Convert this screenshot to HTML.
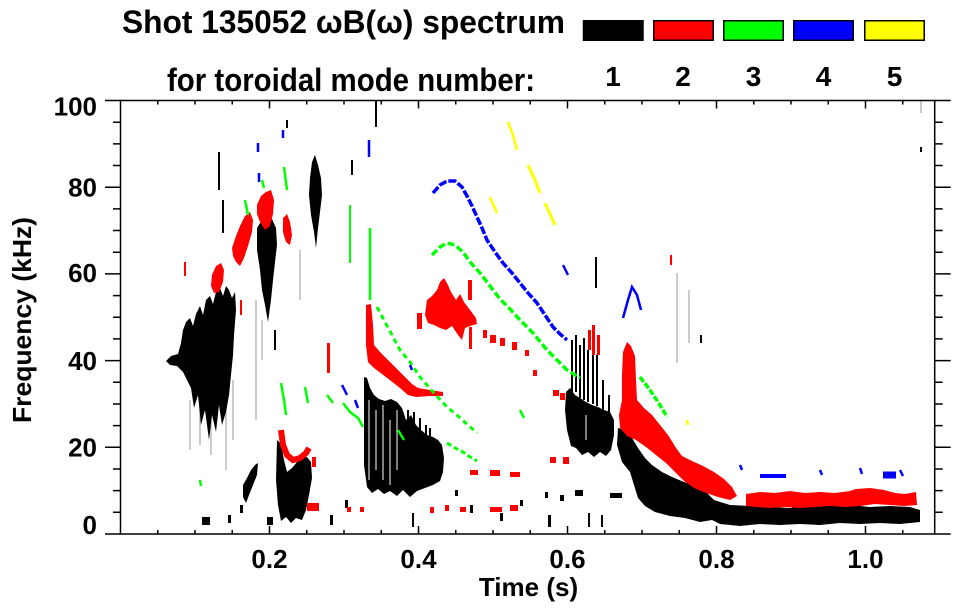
<!DOCTYPE html>
<html><head><meta charset="utf-8"><style>
html,body{margin:0;padding:0;background:#fff;}
svg{display:block;}
text{font-family:"Liberation Sans",Arial,sans-serif;font-weight:bold;fill:#000;}
</style></head><body>
<svg width="963" height="615" viewBox="0 0 963 615" xmlns="http://www.w3.org/2000/svg">
<rect width="963" height="615" fill="#fff"/>

<!-- Title -->
<text x="122" y="33" font-size="32" textLength="443" lengthAdjust="spacingAndGlyphs">Shot 135052 ωB(ω) spectrum</text>
<text x="167" y="91" font-size="32" textLength="368" lengthAdjust="spacingAndGlyphs">for toroidal mode number:</text>

<!-- Legend -->
<g stroke="#000" stroke-width="1.5">
<rect x="583.5" y="20.75" width="59.5" height="19.5" fill="#000"/>
<rect x="653.75" y="20.75" width="59.5" height="19.5" fill="#ff0000"/>
<rect x="723.75" y="20.75" width="59.5" height="19.5" fill="#00ff00"/>
<rect x="793.75" y="20.75" width="59.5" height="19.5" fill="#0000ff"/>
<rect x="864.75" y="20.75" width="59.5" height="19.5" fill="#ffff00"/>
</g>
<g font-size="28" text-anchor="middle">
<text x="613" y="86">1</text>
<text x="683" y="86">2</text>
<text x="753.5" y="86">3</text>
<text x="823.5" y="86">4</text>
<text x="894.5" y="86">5</text>
</g>

<!-- ===== DATA ===== -->
<g stroke="#aaa" stroke-width="1.2" fill="none">
<path d="M190,400V450M200,405V445M211,400V455M226,395V470M233,380V440M256,300V420M262,320V360M677,273V363M689,290V343M921,100V113M320,183V198M300,250V300"/>
</g>

<!-- BLACK -->
<g fill="#000">
<path d="M166,361 L171,356 L178,354 L181,343 L183,330 L186,322 L190,318 L193,326 L196,314 L200,306 L203,315 L206,300 L210,296 L213,304 L216,292 L220,288 L223,296 L226,286 L229,290 L232,298 L235,292 L236,310 L234,335 L233,355 L231,375 L229,395 L226,412 L222,425 L219,405 L216,432 L212,415 L209,440 L205,410 L201,425 L198,395 L194,408 L191,388 L187,380 L183,372 L177,366 L170,365 Z"/>
<path d="M257,228 L262,220 L267,222 L272,219 L276,228 L277,245 L275,262 L273,280 L271,300 L268,322 L265,305 L262,290 L260,270 L257,250 Z"/>
<path d="M312,162 L315,155 L318,165 L321,178 L322,195 L320,212 L318,228 L316,248 L314,232 L311,215 L309,195 L310,178 Z"/>
<path d="M277,440 L281,444 L284,460 L287,472 L292,468 L297,462 L302,458 L307,457 L311,462 L312,478 L309,495 L306,510 L302,520 L296,518 L291,523 L286,517 L281,521 L278,505 L276,480 Z"/>
<path d="M255,465 L258,463 L257,475 L253,485 L249,495 L246,503 L243,497 L243,485 L247,478 L251,470 Z"/>
<path d="M364,377 L367,378 L370,388 L374,395 L379,399 L385,401 L391,399 L397,402 L402,408 L406,420 L411,415 L416,425 L421,430 L427,435 L433,437 L438,440 L442,445 L444,458 L443,472 L440,481 L433,485 L425,488 L417,491 L410,497 L403,490 L397,496 L390,491 L384,494 L378,489 L372,493 L367,487 L364,465 Z"/>
<path d="M408,410V430M414,412V432M420,418V436M426,425V440M430,428V440" stroke="#000" stroke-width="2"/>
<path d="M566,392 L570,388 L575,395 L580,398 L586,402 L592,405 L598,407 L604,410 L610,412 L614,420 L614,435 L611,450 L606,456 L600,452 L594,457 L588,452 L582,455 L576,448 L571,446 L567,430 L565,410 Z"/>
<path d="M572,340V395M576,335V392M580,345V398M584,338V400M588,350V402M593,342V404M597,355V406M603,380V410M609,395V413" stroke="#000" stroke-width="2"/>
<path d="M618,428 L625,430 L632,438 L638,448 L645,458 L652,465 L662,472 L672,477 L684,482 L696,486 L706,492 L714,500 L730,505 L750,506 L770,507 L790,508 L810,505 L830,506 L850,505 L870,507 L890,506 L910,507 L920,510 L920,522 L900,524 L880,523 L860,524 L840,523 L820,525 L800,524 L780,525 L760,524 L740,526 L720,524 L712,520 L700,522 L685,518 L670,516 L655,512 L645,506 L638,498 L630,472 L622,462 L617,445 Z"/>
<path d="M376,100V127M219,152V190M223,200V233M596,257V288M413,513V527M589,513V527M602,515V527M921,147V152M352,160V175M287,120V128M275,330V350" stroke="#000" stroke-width="2"/>
<rect x="202" y="517" width="8" height="8"/><rect x="267" y="517" width="6" height="8"/>
<rect x="330" y="515" width="3" height="10"/><rect x="345" y="500" width="3" height="8"/>
<rect x="455" y="490" width="3" height="6"/><rect x="470" y="505" width="3" height="8"/>
<rect x="500" y="513" width="3" height="8"/><rect x="520" y="500" width="3" height="6"/>
<rect x="545" y="492" width="3" height="6"/><rect x="560" y="495" width="4" height="6"/>
<rect x="575" y="490" width="8" height="6"/><rect x="610" y="493" width="12" height="5"/>
<rect x="228" y="515" width="3" height="8"/><rect x="240" y="505" width="3" height="8"/>
<rect x="548" y="515" width="3" height="12"/><rect x="700" y="335" width="2" height="8"/>
</g>
<path d="M369,400V480M376,410V470M383,405V480M390,420V485M397,410V470M586,415V440" stroke="#fff" stroke-width="1"/>

<!-- RED -->
<g fill="#ff0000">
<path d="M212,275 L216,266 L221,263 L224,270 L223,282 L219,292 L214,293 L211,286 Z"/>
<path d="M232,248 L236,236 L240,226 L245,216 L250,212 L253,220 L252,232 L248,246 L244,258 L240,266 L236,262 L233,256 Z"/>
<path d="M257,205 L261,196 L266,192 L271,190 L274,200 L273,214 L270,226 L265,230 L260,222 L257,214 Z"/>
<path d="M283,218 L287,214 L290,222 L292,235 L290,245 L286,242 L283,232 Z"/>
<path d="M366,305 L371,304 L373,325 L374,345 L380,352 L388,360 L396,368 L404,376 L412,384 L418,388 L430,390 L443,392 L443,396 L430,396 L416,397 L408,395 L400,388 L391,381 L382,374 L374,368 L368,362 L366,345 Z"/>
<path d="M427,300 L432,296 L437,290 L440,282 L444,278 L448,285 L451,292 L456,300 L460,294 L464,302 L470,310 L476,318 L477,324 L470,326 L465,328 L462,340 L458,335 L452,326 L446,330 L440,328 L434,325 L428,323 L425,315 Z"/>
<path d="M623,352 L627,342 L631,346 L635,356 L636,380 L637,400 L644,408 L652,415 L660,425 L668,435 L676,448 L682,456 L692,461 L703,466 L714,472 L724,479 L732,487 L737,496 L730,500 L718,497 L706,493 L694,488 L684,481 L675,472 L666,463 L656,455 L646,447 L636,440 L627,436 L620,428 L619,415 L622,400 L622,375 Z"/>
<path d="M746,494 L760,492 L775,493 L790,491 L805,493 L820,492 L835,493 L850,491 L856,489 L870,488 L884,490 L895,493 L905,494 L916,492 L917,505 L905,506 L890,505 L875,504 L860,506 L845,507 L830,506 L815,507 L800,508 L785,507 L770,508 L755,507 L746,506 Z"/>
<rect x="483" y="330" width="4" height="8"/><rect x="490" y="335" width="6" height="8"/>
<rect x="500" y="338" width="5" height="8"/><rect x="512" y="342" width="5" height="8"/>
<rect x="525" y="350" width="4" height="6"/><rect x="533" y="370" width="4" height="6"/>
<rect x="553" y="390" width="6" height="6"/><rect x="560" y="393" width="5" height="7"/>
<rect x="588" y="330" width="3" height="20"/><rect x="592" y="325" width="3" height="30"/>
<rect x="597" y="335" width="3" height="20"/><rect x="468" y="280" width="4" height="20"/>
<rect x="469" y="327" width="3" height="22"/><rect x="417" y="313" width="5" height="16"/>
<rect x="327" y="343" width="3" height="30"/><rect x="240" y="300" width="2" height="15"/>
<rect x="307" y="503" width="12" height="8"/><rect x="347" y="507" width="4" height="5"/>
<rect x="360" y="507" width="4" height="5"/><rect x="430" y="507" width="4" height="6"/>
<rect x="445" y="505" width="4" height="6"/><rect x="460" y="507" width="6" height="5"/>
<rect x="490" y="507" width="12" height="5"/><rect x="510" y="505" width="8" height="6"/>
<rect x="470" y="470" width="8" height="5"/><rect x="490" y="470" width="10" height="6"/>
<rect x="510" y="472" width="10" height="5"/><rect x="550" y="457" width="6" height="6"/>
<rect x="563" y="457" width="6" height="7"/><rect x="670" y="255" width="2" height="10"/>
<rect x="312" y="457" width="4" height="10"/><rect x="184" y="262" width="2" height="14"/>
</g>
<path d="M281,430 L283,445 L287,455 L293,460 L300,458 L306,453 L309,448" stroke="#ff0000" stroke-width="6" fill="none"/>

<!-- GREEN -->
<g stroke="#00ff00" fill="none">
<path d="M432,255 L440,247 L447,243 L455,245 L463,252 L470,262 L480,273 L490,286 L500,299 L510,309 L520,320 L533,333 L547,350 L557,360 L567,370 L580,378" stroke-width="3.5" stroke-dasharray="7 3"/>
<path d="M640,377 L650,390 L660,405 L667,417" stroke-width="3.5" stroke-dasharray="6 2"/>
<path d="M370,228 L370,300" stroke-width="2.5"/>
<path d="M377,307 L385,322 L392,335 L400,350 L410,362 L420,377 L433,392 L447,407 L458,416 L468,425 L477,433" stroke-width="3" stroke-dasharray="5 4"/>
<path d="M447,443 L455,448 L463,452 L470,457 L477,461" stroke-width="3" stroke-dasharray="5 3"/>
<path d="M350,205 L350,263" stroke-width="2"/>
<path d="M281,383 L284,400 L286,415 M305,387 L308,403 M245,200 L248,215 M284,167 L287,190 M343,403 L350,412 L358,418 L363,427 M327,395 L333,403 M398,430 L404,440 M520,410 L524,418 M200,480 L201,486 M262,180 L264,188" stroke-width="2.5"/>
</g>

<!-- BLUE -->
<g stroke="#0000ff" fill="none">
<path d="M433,193 L440,185 L447,181 L455,181 L462,187 L467,196 L472,206 L477,217 L482,228 L487,240 L495,252 L503,263 L512,273 L520,283 L528,293 L537,303 L545,315 L553,327 L560,334 L567,340" stroke-width="3.5" stroke-dasharray="8 2"/>
<path d="M623,318 L628,300 L632,287 L637,295 L641,310" stroke-width="2.5"/>
<path d="M563,265 L568,275" stroke-width="2.5"/>
<path d="M760,476 H786" stroke-width="4"/>
<path d="M883,475 H896" stroke-width="7"/>
<path d="M258,143 V152 M259,173 V182 M283,130 V138 M369,140 V157 M342,385 L347,395 M355,400 L358,408 M410,365 L412,370 M740,465 L742,470 M820,470 L822,475 M860,468 L862,474 M900,470 L903,476" stroke-width="2.5"/>
</g>

<!-- YELLOW -->
<g stroke="#ffff00" fill="none">
<path d="M508,122 L513,135 L517,150" stroke-width="2.5"/>
<path d="M528,165 L535,180 L540,193 M545,203 L550,214 L555,225" stroke-width="3"/>
<path d="M490,197 L497,213 M687,420 L688,425" stroke-width="2.5"/>
</g>

<!-- ===== AXES ===== -->
<rect x="120.5" y="100.5" width="814.2" height="433.5" fill="none" stroke="#000" stroke-width="1.5"/>
<g stroke="#000" stroke-width="1.5" fill="none">
<path d="M157.75,534v-4M195,534v-4M232.25,534v-4M269.5,534v-8M306.75,534v-4M344,534v-4M381.25,534v-4M418.5,534v-8M455.75,534v-4M493,534v-4M530.25,534v-4M567.5,534v-8M604.75,534v-4M642,534v-4M679.25,534v-4M716.5,534v-8M753.75,534v-4M791,534v-4M828.25,534v-4M865.5,534v-8M902.75,534v-4"/>
<path d="M157.75,100.5v4M195,100.5v4M232.25,100.5v4M269.5,100.5v8M306.75,100.5v4M344,100.5v4M381.25,100.5v4M418.5,100.5v8M455.75,100.5v4M493,100.5v4M530.25,100.5v4M567.5,100.5v8M604.75,100.5v4M642,100.5v4M679.25,100.5v4M716.5,100.5v8M753.75,100.5v4M791,100.5v4M828.25,100.5v4M865.5,100.5v8M902.75,100.5v4"/>
<path d="M105,534H120.5M113,512.3H120.5M113,490.65H120.5M113,468.98H120.5M105,447.3H120.5M113,425.6H120.5M113,403.95H120.5M113,382.3H120.5M105,360.6H120.5M113,338.9H120.5M113,317.25H120.5M113,295.6H120.5M105,273.9H120.5M113,252.2H120.5M113,230.55H120.5M113,208.9H120.5M105,187.2H120.5M113,165.5H120.5M113,143.85H120.5M113,122.2H120.5M105,100.5H120.5"/>
<path d="M934.7,534h16M934.7,512.3h8M934.7,490.65h8M934.7,468.98h8M934.7,447.3h16M934.7,425.6h8M934.7,403.95h8M934.7,382.3h8M934.7,360.6h16M934.7,338.9h8M934.7,317.25h8M934.7,295.6h8M934.7,273.9h16M934.7,252.2h8M934.7,230.55h8M934.7,208.9h8M934.7,187.2h16M934.7,165.5h8M934.7,143.85h8M934.7,122.2h8M934.7,100.5h16"/>
</g>

<g font-size="26" text-anchor="end">
<text x="97" y="115.3">100</text>
<text x="97" y="196.3">80</text>
<text x="97" y="282">60</text>
<text x="97" y="370">40</text>
<text x="97" y="456.3">20</text>
<text x="97" y="534">0</text>
</g>
<g font-size="26" text-anchor="middle">
<text x="269.5" y="568">0.2</text>
<text x="418.5" y="568">0.4</text>
<text x="567.5" y="568">0.6</text>
<text x="716.5" y="568">0.8</text>
<text x="865.5" y="568">1.0</text>
<text x="528.5" y="596">Time (s)</text>
</g>
<text font-size="26" text-anchor="middle" transform="translate(31,320) rotate(-90)" textLength="206" lengthAdjust="spacingAndGlyphs">Frequency (kHz)</text>
</svg>
</body></html>
